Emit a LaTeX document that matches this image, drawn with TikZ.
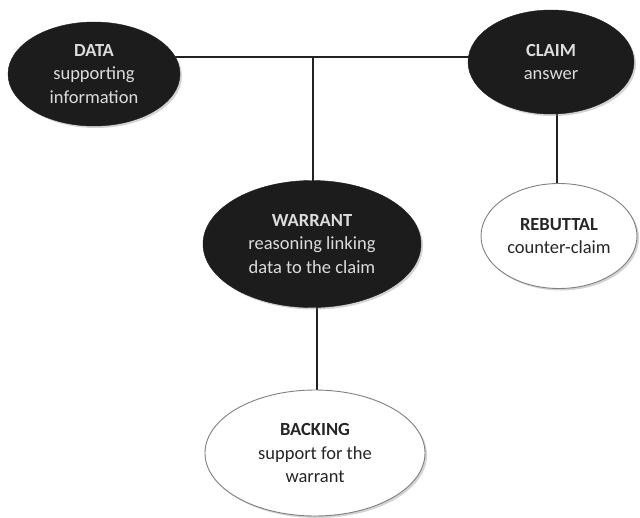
\documentclass[tikz,border=0pt]{standalone}
\usepackage{fontspec}
\setmainfont{Carlito}
\usetikzlibrary{shapes.geometric,shadows,backgrounds}
\definecolor{darkfill}{HTML}{1C1C1C}
\definecolor{lighttext}{HTML}{DCDCDC}
\definecolor{linecol}{HTML}{222222}
\begin{document}
\begin{tikzpicture}[x=1pt,y=-1pt,
  base/.style={ellipse,inner sep=0pt,align=center,font=\fontsize{18.5}{23.5}\selectfont,
    drop shadow={opacity=0.35,shadow xshift=2pt,shadow yshift=-2pt}},
  darknode/.style={base,fill=darkfill,text=lighttext,draw=darkfill},
  lightnode/.style={base,fill=white,text=black!85,draw=black!50,line width=0.9pt},
  conn/.style={draw=linecol,line width=1.8pt}]
\useasboundingbox (0,0) rectangle (640,517);
\node[darknode,minimum width=172pt,minimum height=104pt] (data) at (94,74)
  {\textbf{DATA}\\supporting\\information};
\node[darknode,minimum width=166pt,minimum height=104pt] (claim) at (551,62)
  {\textbf{CLAIM}\\answer\\[-23pt]\phantom{x}};
\node[darknode,minimum width=218pt,minimum height=127pt] (warrant) at (312,244)
  {\textbf{WARRANT}\\reasoning linking\\data to the claim};
\node[lightnode,minimum width=156pt,minimum height=105pt] (rebuttal) at (559,236)
  {\textbf{REBUTTAL}\\counter-claim};
\node[lightnode,minimum width=220pt,minimum height=126pt] (backing) at (315,453)
  {\textbf{BACKING}\\support for the\\warrant};
\coordinate (j) at (313,57);
\begin{scope}[on background layer]
\path[conn] (j -| data.center) -- (j -| claim.center);
\path[conn] (j) -- (j |- warrant.center);
\path[conn] (557,62) -- (557,236);
\path[conn] (317,244) -- (317,453);
\end{scope}
\end{tikzpicture}
\end{document}
